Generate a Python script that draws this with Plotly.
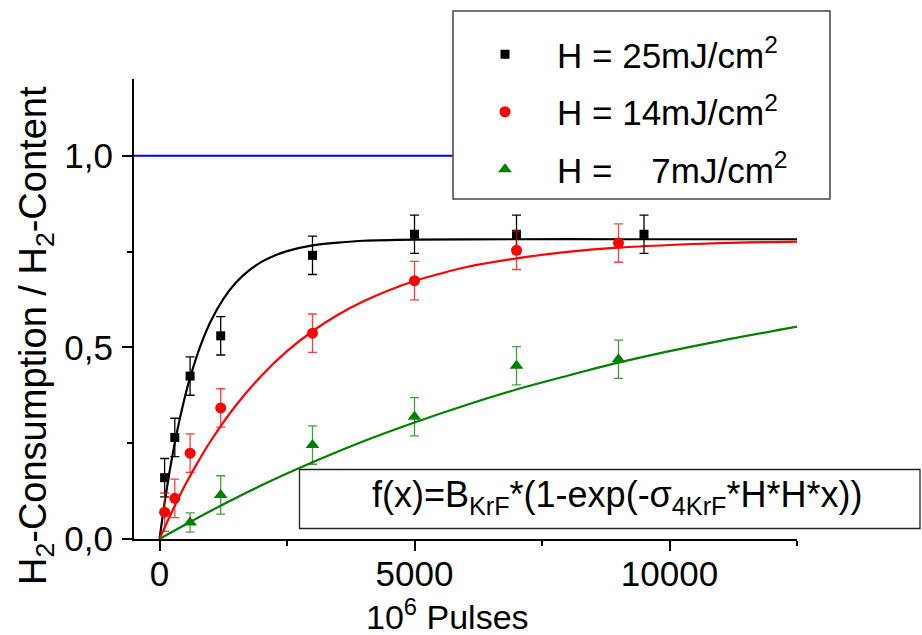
import plotly.graph_objects as go

# ---- measured data (10^6 pulses, normalised H2 consumption) ----
x_25 = [100, 300, 600, 1200, 3000, 5000, 7000, 9500]
y_25 = [0.16, 0.265, 0.425, 0.53, 0.74, 0.795, 0.795, 0.795]
e_25 = [0.05, 0.05, 0.05, 0.05, 0.05, 0.05, 0.05, 0.05]

x_14 = [100, 300, 600, 1200, 3000, 5000, 7000, 9000]
y_14 = [0.07, 0.106, 0.224, 0.342, 0.537, 0.674, 0.753, 0.772]
e_14 = [0.05, 0.05, 0.05, 0.05, 0.05, 0.05, 0.05, 0.05]

x_7 = [600, 1200, 3000, 5000, 7000, 9000]
y_7 = [0.043, 0.115, 0.245, 0.319, 0.452, 0.469]
e_7 = [0.025, 0.05, 0.05, 0.05, 0.05, 0.05]

# ---- fit curves ----
fx_25 = [0, 100, 200, 300, 400, 500, 600, 800, 1000, 1250, 1500, 1750, 2000, 2250, 2500, 3000, 3500, 4000, 5000, 7000, 9000, 12500]
fy_25 = [0, 0.095, 0.178, 0.251, 0.315, 0.372, 0.421, 0.503, 0.567, 0.626, 0.669, 0.700, 0.723, 0.739, 0.751, 0.766, 0.773, 0.778, 0.781, 0.782, 0.782, 0.782]

fx_14 = [0, 250, 500, 750, 1000, 1500, 2000, 2500, 3000, 3500, 4000, 4500, 5000, 5500, 6000, 7000, 8000, 9000, 10000, 11000, 12500]
fy_14 = [0, 0.073, 0.140, 0.200, 0.255, 0.349, 0.426, 0.490, 0.542, 0.585, 0.620, 0.649, 0.673, 0.692, 0.709, 0.732, 0.749, 0.760, 0.767, 0.772, 0.776]

fx_7 = [0, 1000, 2000, 3000, 4000, 5000, 6000, 7000, 8000, 9000, 10000, 11000, 12500]
fy_7 = [0, 0.073, 0.140, 0.200, 0.255, 0.304, 0.349, 0.390, 0.426, 0.460, 0.490, 0.517, 0.554]

ref_x = [-500, 12500]
ref_y = [1.0, 1.0]

names = ["H =\u00a025mJ/cm<sup>2</sup>", "H =\u00a014mJ/cm<sup>2</sup>", "H =\u00a0\u00a0\u00a0\u00a07mJ/cm<sup>2</sup>"]
colors = ["black", "#ff0000", "#008000"]
err_colors = ["black", "rgba(255,0,0,0.75)", "rgba(0,128,0,0.75)"]
symbols = ["square", "circle", "triangle-up"]
sizes = [9, 11, 12]
smooth = [0.5, 1.0, 1.0]

x_ticks = [0, 5000, 10000]
x_tick_text = ["0", "5000", "10000"]
y_ticks = [0.0, 0.5, 1.0]
y_tick_text = ["0,0", "0,5", "1,0"]

FONT = "Liberation Sans, Arial, sans-serif"

fig = go.Figure()

fig.add_trace(go.Scatter(x=ref_x, y=ref_y, mode="lines", line=dict(color="#0000ee", width=2),
                         showlegend=False, hoverinfo="skip"))

for k, (fx, fy) in enumerate([(fx_25, fy_25), (fx_14, fy_14), (fx_7, fy_7)]):
    fig.add_trace(go.Scatter(x=fx, y=fy, mode="lines",
                             line=dict(color=colors[k], width=2.2, shape="spline", smoothing=smooth[k]),
                             showlegend=False, hoverinfo="skip"))

for i, (xs, ys, es) in enumerate([(x_25, y_25, e_25), (x_14, y_14, e_14), (x_7, y_7, e_7)]):
    fig.add_trace(go.Scatter(
        x=xs, y=ys, mode="markers", name=names[i], legendgroup=f"g{i}",
        marker=dict(symbol=symbols[i], size=sizes[i], color=colors[i], line=dict(width=0)),
        error_y=dict(type="data", array=es, visible=True, color=err_colors[i], thickness=1.3, width=4.5),
    ))

L, R, T, B = 134, 125, 79, 96
W, H = 922, 635
pw, ph = W - L - R, H - T - B

def px(xp):
    return (xp - L) / pw

def py(yp):
    return (H - B - yp) / ph

shapes = [
    # legend frame
    dict(type="rect", xref="paper", yref="paper", x0=px(453), x1=px(830), y0=py(199), y1=py(11),
         line=dict(color="#444444", width=1.5), fillcolor="white", layer="above"),
    # formula frame
    dict(type="rect", xref="paper", yref="paper", x0=px(299.5), x1=px(920), y0=py(528.5), y1=py(469.5),
         line=dict(color="#222222", width=1.3), fillcolor="white", layer="above"),
]

annotations = [
    dict(text="f(x)=B<sub>KrF</sub>*(1-exp(-σ<sub>4KrF</sub>*H*H*x))", xref="paper", yref="paper",
         x=px(617), y=py(497), xanchor="center", yanchor="middle", showarrow=False,
         font=dict(size=36, color="black", family=FONT)),
    dict(text="10<sup>6</sup> Pulses", xref="paper", yref="paper", x=px(447), y=py(614),
         xanchor="center", yanchor="middle", showarrow=False, font=dict(size=34, color="black", family=FONT)),
    dict(text="H<sub>2</sub>-Consumption / H<sub>2</sub>-Content", xref="paper", yref="paper",
         x=px(36), y=py(336), xanchor="center", yanchor="middle", textangle=-90, showarrow=False,
         font=dict(size=38, color="black", family=FONT)),
]

fig.update_layout(
    width=W, height=H,
    margin=dict(l=L, r=R, t=T, b=B, pad=0),
    paper_bgcolor="white", plot_bgcolor="white",
    font=dict(family=FONT, color="black", size=35),
    shapes=shapes, annotations=annotations,
    legend=dict(x=px(453), y=py(25), xanchor="left", yanchor="top",
                bgcolor="rgba(0,0,0,0)", borderwidth=0, itemwidth=94, tracegroupgap=9,
                font=dict(size=35, family=FONT, color="black")),
    xaxis=dict(range=[-500, 12500], tickvals=x_ticks, ticktext=x_tick_text, showgrid=False, zeroline=False,
               showline=True, linecolor="black", linewidth=2, ticks="outside", ticklen=10, tickwidth=2,
               tickcolor="black", tickfont=dict(size=35), ticklabelstandoff=-7,
               minor=dict(tickvals=[2500, 7500, 12500], ticks="outside", ticklen=5, tickwidth=2, tickcolor="black")),
    yaxis=dict(range=[0, 1.2], tickvals=y_ticks, ticktext=y_tick_text, showgrid=False, zeroline=False,
               showline=True, linecolor="black", linewidth=2, ticks="outside", ticklen=10, tickwidth=2,
               tickcolor="black", tickfont=dict(size=35), ticklabelstandoff=2,
               minor=dict(tickvals=[0.25, 0.75], ticks="outside", ticklen=5, tickwidth=2, tickcolor="black")),
)

fig.write_html("out.html")
